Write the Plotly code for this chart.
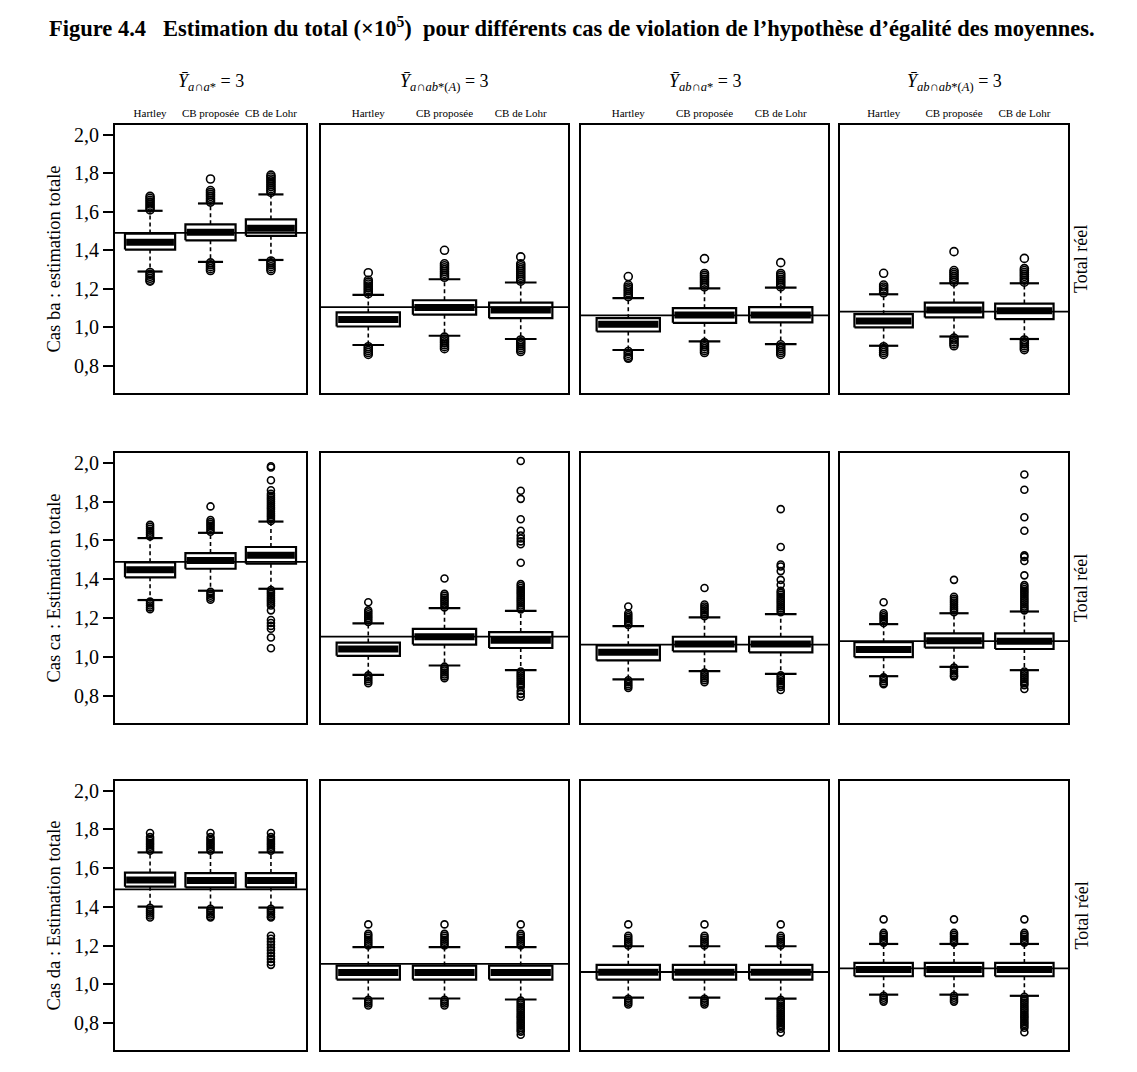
import plotly.graph_objects as go

# ---------------- data ----------------
methods = ["Hartley", "CB proposée", "CB de Lohr"]
col_headers = [
    "<i>Ȳ</i><sub><i>a</i>∩<i>a</i>*</sub> = 3",
    "<i>Ȳ</i><sub><i>a</i>∩<i>ab</i>*(<i>A</i>)</sub> = 3",
    "<i>Ȳ</i><sub><i>ab</i>∩<i>a</i>*</sub> = 3",
    "<i>Ȳ</i><sub><i>ab</i>∩<i>ab</i>*(<i>A</i>)</sub> = 3",
]
row_titles = ["Cas ba : estimation totale", "Cas ca : Estimation totale", "Cas da : Estimation totale"]
right_label = "Total réel"
total_reel = [1.49, 1.105, 1.063, 1.082]
y_ticks = [0.8, 1.0, 1.2, 1.4, 1.6, 1.8, 2.0]
positions = [1, 2, 3]

# Cas ba  (per column: Hartley, CB proposée, CB de Lohr)
q1_ba = [[1.404, 1.452, 1.475], [1.005, 1.066, 1.048], [0.979, 1.024, 1.026], [1.000, 1.052, 1.043]]
med_ba = [[1.442, 1.494, 1.515], [1.041, 1.103, 1.090], [1.017, 1.064, 1.064], [1.034, 1.090, 1.086]]
q3_ba = [[1.487, 1.535, 1.560], [1.078, 1.141, 1.129], [1.048, 1.100, 1.105], [1.069, 1.129, 1.124]]
lo_ba = [[1.290, 1.340, 1.350], [0.909, 0.957, 0.940], [0.883, 0.928, 0.914], [0.905, 0.953, 0.940]]
hi_ba = [[1.605, 1.643, 1.690], [1.169, 1.250, 1.233], [1.152, 1.203, 1.207], [1.172, 1.229, 1.229]]
out_ba = [
    [[1.61, 1.62, 1.63, 1.64, 1.65, 1.66, 1.67, 1.68, 1.285, 1.275, 1.265, 1.255, 1.245, 1.24],
     [1.65, 1.66, 1.67, 1.68, 1.69, 1.70, 1.71, 1.77, 1.335, 1.325, 1.315, 1.305, 1.295],
     [1.70, 1.71, 1.72, 1.73, 1.74, 1.75, 1.76, 1.77, 1.78, 1.79, 1.345, 1.335, 1.325, 1.315, 1.305, 1.295]],
    [[1.175, 1.185, 1.195, 1.205, 1.215, 1.225, 1.235, 1.245, 1.284, 0.90, 0.89, 0.88, 0.87, 0.86],
     [1.26, 1.27, 1.28, 1.29, 1.30, 1.31, 1.32, 1.33, 1.40, 0.95, 0.94, 0.93, 0.92, 0.91, 0.90, 0.89],
     [1.24, 1.25, 1.26, 1.27, 1.28, 1.29, 1.30, 1.31, 1.32, 1.33, 1.366, 0.935, 0.925, 0.915, 0.905, 0.895, 0.885, 0.875]],
    [[1.16, 1.17, 1.18, 1.19, 1.20, 1.21, 1.22, 1.264, 0.875, 0.865, 0.855, 0.845, 0.84],
     [1.21, 1.22, 1.23, 1.24, 1.25, 1.26, 1.27, 1.28, 1.357, 0.92, 0.91, 0.90, 0.89, 0.88, 0.87],
     [1.21, 1.22, 1.23, 1.24, 1.25, 1.26, 1.27, 1.28, 1.336, 0.91, 0.90, 0.89, 0.88, 0.87, 0.86]],
    [[1.18, 1.19, 1.20, 1.21, 1.22, 1.281, 0.90, 0.89, 0.88, 0.87, 0.86],
     [1.235, 1.245, 1.255, 1.265, 1.275, 1.285, 1.295, 1.393, 0.945, 0.935, 0.925, 0.915, 0.905],
     [1.235, 1.245, 1.255, 1.265, 1.275, 1.285, 1.295, 1.305, 1.358, 0.935, 0.925, 0.915, 0.905, 0.895, 0.885]],
]

# Cas ca
q1_ca = [[1.410, 1.454, 1.480], [1.006, 1.064, 1.046], [0.982, 1.029, 1.024], [0.999, 1.048, 1.041]]
med_ca = [[1.449, 1.497, 1.523], [1.041, 1.104, 1.086], [1.024, 1.067, 1.067], [1.038, 1.084, 1.081]]
q3_ca = [[1.487, 1.535, 1.566], [1.074, 1.145, 1.128], [1.060, 1.104, 1.104], [1.076, 1.121, 1.121]]
lo_ca = [[1.293, 1.341, 1.351], [0.908, 0.956, 0.932], [0.885, 0.927, 0.913], [0.901, 0.949, 0.932]]
hi_ca = [[1.612, 1.639, 1.697], [1.173, 1.251, 1.237], [1.159, 1.204, 1.221], [1.169, 1.225, 1.234]]
out_ca = [
    [[1.62, 1.63, 1.64, 1.65, 1.66, 1.67, 1.68, 1.285, 1.275, 1.265, 1.255, 1.246],
     [1.645, 1.655, 1.665, 1.675, 1.685, 1.695, 1.705, 1.775, 1.335, 1.325, 1.315, 1.305, 1.295],
     [1.70, 1.71, 1.72, 1.73, 1.74, 1.75, 1.76, 1.77, 1.78, 1.79, 1.80, 1.81, 1.82, 1.83, 1.84,
      1.858, 1.91, 1.975, 1.982,
      1.345, 1.335, 1.325, 1.315, 1.305, 1.295, 1.285, 1.275, 1.265, 1.24, 1.19, 1.175, 1.16, 1.145, 1.10, 1.045]],
    [[1.18, 1.19, 1.20, 1.21, 1.22, 1.23, 1.24, 1.282, 0.905, 0.895, 0.885, 0.875, 0.865],
     [1.255, 1.265, 1.275, 1.285, 1.295, 1.305, 1.315, 1.325, 1.404, 0.95, 0.94, 0.93, 0.92, 0.91, 0.90, 0.89],
     [1.245, 1.255, 1.265, 1.275, 1.285, 1.295, 1.305, 1.315, 1.325, 1.335, 1.345, 1.355, 1.365, 1.375,
      1.485, 1.58, 1.595, 1.61, 1.625, 1.65, 1.709, 1.814, 1.856, 2.009,
      0.925, 0.915, 0.905, 0.895, 0.885, 0.875, 0.865, 0.855, 0.845, 0.825, 0.81, 0.795]],
    [[1.165, 1.175, 1.185, 1.195, 1.205, 1.215, 1.225, 1.26, 0.88, 0.87, 0.86, 0.85, 0.84],
     [1.21, 1.22, 1.23, 1.24, 1.25, 1.26, 1.27, 1.355, 0.92, 0.91, 0.90, 0.89, 0.88, 0.87],
     [1.23, 1.24, 1.25, 1.26, 1.27, 1.28, 1.29, 1.30, 1.31, 1.32, 1.33, 1.34,
      1.372, 1.397, 1.442, 1.466, 1.476, 1.566, 1.761,
      0.905, 0.895, 0.885, 0.875, 0.865, 0.855, 0.845, 0.83]],
    [[1.175, 1.185, 1.195, 1.205, 1.215, 1.225, 1.282, 0.895, 0.885, 0.875, 0.865, 0.86],
     [1.23, 1.24, 1.25, 1.26, 1.27, 1.28, 1.29, 1.30, 1.31, 1.397, 0.945, 0.935, 0.925, 0.915, 0.905, 0.90],
     [1.24, 1.25, 1.26, 1.27, 1.28, 1.29, 1.30, 1.31, 1.32, 1.33, 1.34, 1.35, 1.36, 1.37,
      1.42, 1.494, 1.515, 1.523, 1.65, 1.719, 1.861, 1.939,
      0.925, 0.915, 0.905, 0.895, 0.885, 0.875, 0.865, 0.855, 0.835]],
]

# Cas da
q1_da = [[1.504, 1.500, 1.500], [1.024, 1.024, 1.024], [1.024, 1.024, 1.024], [1.041, 1.041, 1.041]]
med_da = [[1.539, 1.536, 1.536], [1.060, 1.060, 1.060], [1.062, 1.062, 1.062], [1.076, 1.076, 1.076]]
q3_da = [[1.577, 1.574, 1.574], [1.096, 1.096, 1.096], [1.100, 1.100, 1.100], [1.110, 1.110, 1.110]]
lo_da = [[1.401, 1.396, 1.396], [0.926, 0.926, 0.921], [0.931, 0.931, 0.925], [0.946, 0.946, 0.940]]
hi_da = [[1.681, 1.681, 1.681], [1.192, 1.192, 1.192], [1.196, 1.196, 1.196], [1.208, 1.208, 1.208]]
out_da = [
    [[1.69, 1.70, 1.71, 1.72, 1.73, 1.74, 1.75, 1.76, 1.781, 1.395, 1.385, 1.375, 1.365, 1.355, 1.345],
     [1.69, 1.70, 1.71, 1.72, 1.73, 1.74, 1.75, 1.76, 1.781, 1.39, 1.38, 1.37, 1.36, 1.35, 1.345],
     [1.69, 1.70, 1.71, 1.72, 1.73, 1.74, 1.75, 1.76, 1.781, 1.39, 1.38, 1.37, 1.36, 1.35, 1.345,
      1.25, 1.235, 1.22, 1.205, 1.19, 1.175, 1.16, 1.145, 1.13, 1.115, 1.10]],
    [[1.20, 1.21, 1.22, 1.23, 1.24, 1.25, 1.26, 1.309, 0.92, 0.91, 0.90, 0.89],
     [1.20, 1.21, 1.22, 1.23, 1.24, 1.25, 1.26, 1.309, 0.92, 0.91, 0.90, 0.89],
     [1.20, 1.21, 1.22, 1.23, 1.24, 1.25, 1.26, 1.309, 0.915, 0.905, 0.895, 0.885, 0.875, 0.865, 0.855,
      0.845, 0.835, 0.825, 0.815, 0.805, 0.795, 0.785, 0.775, 0.765, 0.755, 0.739]],
    [[1.20, 1.21, 1.22, 1.23, 1.24, 1.25, 1.309, 0.925, 0.915, 0.905, 0.895],
     [1.20, 1.21, 1.22, 1.23, 1.24, 1.25, 1.309, 0.925, 0.915, 0.905, 0.895],
     [1.20, 1.21, 1.22, 1.23, 1.24, 1.25, 1.309, 0.92, 0.91, 0.90, 0.89, 0.88, 0.87, 0.86, 0.85,
      0.84, 0.83, 0.82, 0.81, 0.80, 0.79, 0.78, 0.77, 0.75]],
    [[1.215, 1.225, 1.235, 1.245, 1.255, 1.265, 1.335, 0.94, 0.93, 0.92, 0.91],
     [1.215, 1.225, 1.235, 1.245, 1.255, 1.265, 1.335, 0.94, 0.93, 0.92, 0.91],
     [1.215, 1.225, 1.235, 1.245, 1.255, 1.265, 1.335, 0.935, 0.925, 0.915, 0.905, 0.895, 0.885, 0.875,
      0.865, 0.855, 0.845, 0.835, 0.825, 0.815, 0.805, 0.795, 0.785, 0.775, 0.752]],
]

rows = [
    dict(q1=q1_ba, med=med_ba, q3=q3_ba, lo=lo_ba, hi=hi_ba, out=out_ba),
    dict(q1=q1_ca, med=med_ca, q3=q3_ca, lo=lo_ca, hi=hi_ca, out=out_ca),
    dict(q1=q1_da, med=med_da, q3=q3_da, lo=lo_da, hi=hi_da, out=out_da),
]

# ---------------- layout geometry (pixels) ----------------
W, H = 1137, 1072
col_px = [(115, 306), (321, 568), (581, 828), (840, 1068)]
row_px = [(125, 393), (453, 723), (781, 1050)]
x_ranges = [[0.42, 3.58], [0.38, 3.62], [0.38, 3.62], [0.38, 3.62]]
y_range = [0.66, 2.05]
box_w = 0.83
FONT = "Liberation Serif, Times New Roman, serif"

fig = go.Figure()
layout = dict(
    width=W, height=H, margin=dict(l=0, r=0, t=0, b=0),
    paper_bgcolor="white", plot_bgcolor="white", showlegend=False,
    separators=", ", font=dict(family=FONT, color="black"),
)
shapes = []
annotations = []

for r, rd in enumerate(rows):
    for c in range(4):
        k = r * 4 + c + 1
        xa = "x" if k == 1 else f"x{k}"
        ya = "y" if k == 1 else f"y{k}"
        bx, by, mx, my, wx, wy, cx, cy, ox, oy = [], [], [], [], [], [], [], [], [], []
        for i, p in enumerate(positions):
            q1, md, q3 = rd["q1"][c][i], rd["med"][c][i], rd["q3"][c][i]
            lo, hi = rd["lo"][c][i], rd["hi"][c][i]
            h = box_w / 2
            bx += [p - h, p + h, p + h, p - h, p - h, None]
            by += [q1, q1, q3, q3, q1, None]
            mx += [p - h + 0.02, p + h - 0.02, None]
            my += [md, md, None]
            wx += [p, p, None, p, p, None]
            wy += [q3, hi, None, q1, lo, None]
            cx += [p - h / 2, p + h / 2, None, p - h / 2, p + h / 2, None]
            cy += [hi, hi, None, lo, lo, None]
            for v in rd["out"][c][i]:
                ox.append(p)
                oy.append(v)
        fig.add_trace(go.Scatter(x=wx, y=wy, xaxis=xa, yaxis=ya, mode="lines",
                                 line=dict(color="black", width=1.6, dash="4px,3px"), hoverinfo="skip"))
        fig.add_trace(go.Scatter(x=cx, y=cy, xaxis=xa, yaxis=ya, mode="lines",
                                 line=dict(color="black", width=2.2), hoverinfo="skip"))
        fig.add_trace(go.Scatter(x=ox, y=oy, xaxis=xa, yaxis=ya, mode="markers",
                                 marker=dict(symbol="circle-open", size=8 if r == 0 else 7,
                                             color="black", line=dict(width=1.6, color="black"))))
        fig.add_trace(go.Scatter(x=bx, y=by, xaxis=xa, yaxis=ya, mode="lines", fill="toself",
                                 fillcolor="white", line=dict(color="black", width=2.2), hoverinfo="skip"))
        fig.add_trace(go.Scatter(x=mx, y=my, xaxis=xa, yaxis=ya, mode="lines",
                                 line=dict(color="black", width=7), hoverinfo="skip"))

        x0, x1 = col_px[c]
        y0, y1 = row_px[r]
        xkey = "xaxis" if k == 1 else f"xaxis{k}"
        ykey = "yaxis" if k == 1 else f"yaxis{k}"
        layout[xkey] = dict(
            domain=[x0 / W, x1 / W], range=x_ranges[c], anchor=ya,
            showline=True, mirror=True, linecolor="black", linewidth=2,
            showgrid=False, zeroline=False, side="top",
            tickvals=positions, ticktext=methods, showticklabels=(r == 0),
            ticks="outside" if r == 0 else "", ticklen=2, tickcolor="rgba(0,0,0,0)",
            tickfont=dict(size=11, family=FONT),
        )
        yax = dict(
            domain=[1 - y1 / H, 1 - y0 / H], range=y_range, anchor=xa,
            showline=True, mirror=True, linecolor="black", linewidth=2,
            showgrid=False, zeroline=False,
            tickvals=y_ticks, tickformat=".1f", showticklabels=(c == 0),
            ticks="outside" if c == 0 else "", ticklen=10, tickwidth=1.5, tickcolor="black",
            tickfont=dict(size=20, family=FONT),
        )
        if c == 0:
            yax["title"] = dict(text=row_titles[r], standoff=9, font=dict(size=18.5, family=FONT))
        layout[ykey] = yax
        shapes.append(dict(type="line", xref=f"{xa} domain", yref=ya, x0=0, x1=1,
                           y0=total_reel[c], y1=total_reel[c], line=dict(color="black", width=1.8),
                           layer="above"))
    annotations.append(dict(text=right_label, textangle=-90, showarrow=False,
                            xref="paper", yref="paper", x=1081 / W, y=1 - (sum(row_px[r]) / 2) / H,
                            xanchor="center", yanchor="middle", font=dict(size=18, family=FONT)))

for c in range(4):
    annotations.append(dict(text=col_headers[c], showarrow=False, xref="paper", yref="paper",
                            x=(sum(col_px[c]) / 2) / W, y=1 - 82 / H, xanchor="center", yanchor="middle",
                            font=dict(size=18, family=FONT)))

annotations.append(dict(
    text="<b>Figure 4.4\u00a0\u00a0\u00a0Estimation du total (×10<sup>5</sup>)\u00a0 pour différents cas de violation de l’hypothèse d’égalité des moyennes.</b>",
    showarrow=False, xref="paper", yref="paper", x=572 / W, y=1 - 27 / H,
    xanchor="center", yanchor="middle", font=dict(size=22.5, family=FONT)))

layout["shapes"] = shapes
layout["annotations"] = annotations
fig.update_layout(**layout)
fig.write_html("out.html")
